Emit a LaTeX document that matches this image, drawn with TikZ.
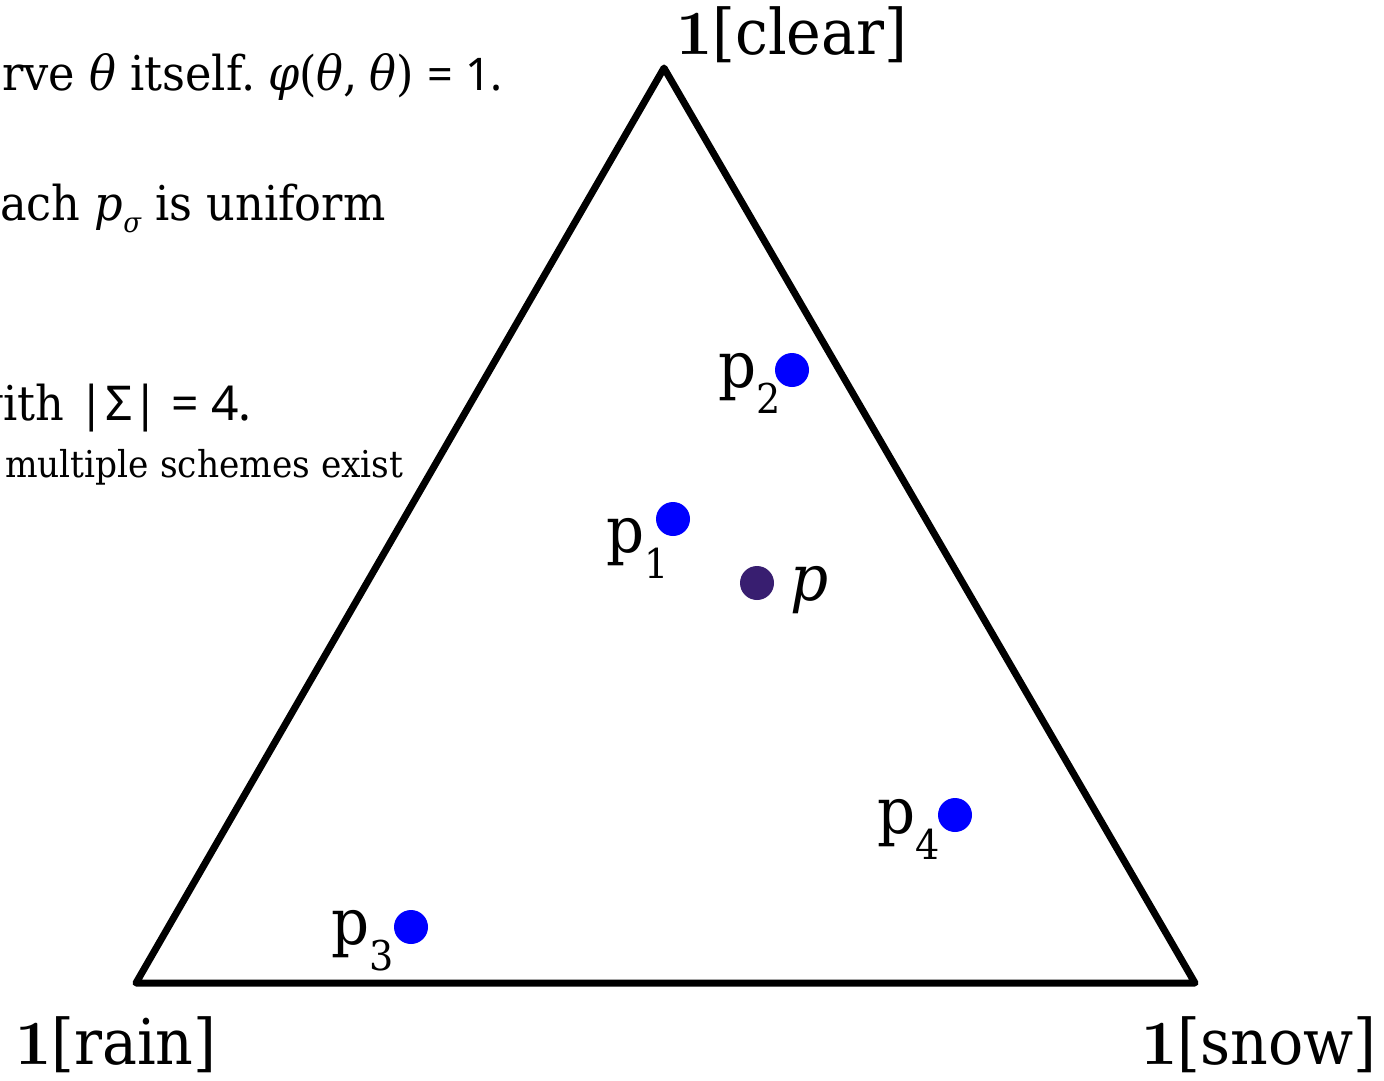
\documentclass[tikz,border=0pt]{standalone}
\usepackage{fontspec}
\setmainfont[FakeStretch=0.93]{DejaVu Serif}
\newfontfamily\nsans{Noto Sans}
\newfontfamily\lmrb[Extension=.otf]{lmroman10-bold}
\definecolor{pdot}{RGB}{56,30,112}
\newcommand\fsVert{\fontsize{63}{70}\selectfont}
\newcommand\fsLbl{\fontsize{64}{70}\selectfont}
\newcommand\fsSub{\fontsize{41}{44}\selectfont}
\newcommand\fsTxt{\fontsize{48}{56}\selectfont}
\newcommand\fsSmall{\fontsize{37}{40}\selectfont}
\newcommand\sbs[1]{\raisebox{-26pt}{\fsSub #1}}
\newcommand\bone{{\lmrb 1}}
\begin{document}
\begin{tikzpicture}[x=1pt,y=-1pt,
  tri/.style={line width=7pt, line join=round},
  bluedot/.style={circle, fill=blue, inner sep=0pt, minimum size=34pt},
  purpledot/.style={circle, fill=pdot, inner sep=0pt, minimum size=34pt},
  vlabel/.style={inner sep=0pt, font=\fsVert},
  plabel/.style={inner sep=0pt, font=\fsLbl, anchor=base east},
  txt/.style={inner sep=0pt, font=\fsTxt}]
\useasboundingbox (0,0) rectangle (1384,1081);
% text at the top left
\node[txt, anchor=base west] (t1) at (2,90) {rve {\itshape θ} itself.\hspace{-6pt} {\itshape φ}({\itshape θ},\hspace{-3pt} {\itshape θ}) {\nsans\fontsize{45}{50}\selectfont = 1.}};
\node[txt, anchor=base west] (t2) at (0,220) {ach {\itshape p}\raisebox{-12pt}{\fontsize{28}{30}\selectfont\itshape σ} is uniform};
\node[txt, anchor=base east] (t3) at (252,420) {with {\nsans |Σ| = 4.}};
\node[inner sep=0pt, font=\fsSmall, anchor=base west] (t4) at (5,477) {multiple schemes exist};
% triangle
\coordinate (top) at (664,68);
\coordinate (bl) at (136,983);
\coordinate (br) at (1195,983);
\draw[tri] (top) -- (bl) -- (br) -- cycle;
% vertex labels
\node[vlabel, anchor=base west] (lclear) at (676,55) {\bone[clear]};
\node[vlabel, anchor=base west] (lrain) at (15,1064) {\bone[rain]};
\node[vlabel, anchor=base east] (lsnow) at (1377,1064) {\bone[snow]};
% points
\node[bluedot] (p1) at (673,519) {};
\node[bluedot] (p2) at (792,370) {};
\node[bluedot] (p3) at (411,927) {};
\node[bluedot] (p4) at (955,815) {};
\node[purpledot] (p) at (757,583) {};
% point labels
\node[plabel] (l1) at ([shift={(-4,33)}]p1.center) {p\sbs{1}};
\node[plabel] (l2) at ([shift={(-11,17)}]p2.center) {p\sbs{2}};
\node[plabel] (l3) at ([shift={(-17,17)}]p3.center) {p\sbs{3}};
\node[plabel] (l4) at ([shift={(-15,18)}]p4.center) {p\sbs{4}};
\node[inner sep=0pt, font=\fsLbl, anchor=base west] (lp) at ([shift={(33,17)}]p.center) {\itshape p};
\end{tikzpicture}
\end{document}
